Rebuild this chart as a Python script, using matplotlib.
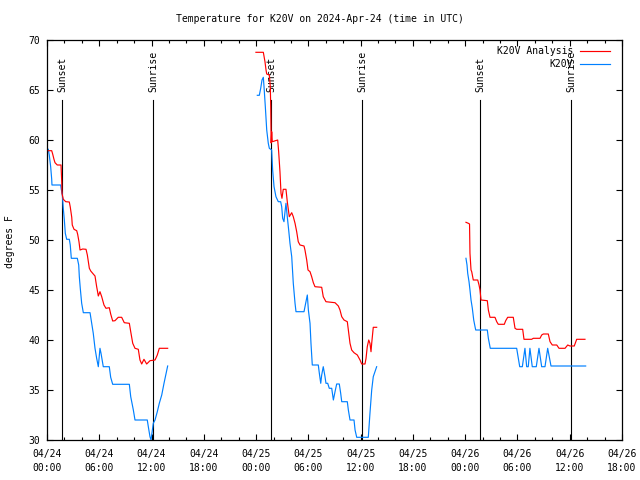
import matplotlib
matplotlib.use("Agg")
import matplotlib.pyplot as plt
from matplotlib.ticker import MultipleLocator, FixedLocator

# ---- data: hours since 2024-04-24 00:00 UTC, temperature in F ----
anl_h1 = [0.15, 0.54, 0.65, 0.80, 0.92, 1.18, 1.61, 1.69, 1.72, 1.87, 2.15, 2.56, 2.67, 2.84, 2.90,
          3.10, 3.41, 3.52, 3.67, 3.79, 4.10, 4.48, 4.63, 4.86, 5.02, 5.31, 5.51, 5.70, 5.77, 5.89,
          6.08, 6.28, 6.54, 6.77, 7.15, 7.31, 7.54, 7.80, 8.18, 8.57, 8.87, 9.45, 9.61, 9.84, 10.10,
          10.48, 10.67, 10.87, 11.13, 11.44, 11.82, 12.40, 12.66, 12.89, 13.85]
anl_t1 = [58.93, 58.93, 58.6, 58.07, 57.73, 57.5, 57.5, 55.8, 54.67, 54.07, 53.83, 53.8, 53.3, 52.27, 51.5,
          51.07, 50.93, 50.57, 49.83, 49.0, 49.1, 49.07, 48.5, 47.17, 46.9, 46.6, 46.4, 45.33, 45.0, 44.4,
          44.83, 44.33, 43.5, 43.17, 43.23, 42.6, 41.9, 41.93, 42.27, 42.27, 41.73, 41.67, 40.83, 39.67, 39.17,
          39.07, 38.0, 37.6, 38.07, 37.6, 37.93, 38.0, 38.5, 39.17, 39.17]

anl_h2 = [23.98, 24.83, 25.02, 25.14, 25.22, 25.52, 25.63, 25.68, 25.73, 25.79, 25.86, 26.48, 26.59, 26.74,
          26.86, 26.97, 27.12, 27.43, 27.58, 27.81, 28.09, 28.27, 28.47, 28.66, 28.84, 29.04, 29.50, 29.61,
          29.81, 29.96, 30.19, 30.38, 30.57, 30.76, 31.53, 31.71, 32.02, 33.06, 33.44, 33.63, 33.83, 34.09,
          34.47, 34.59, 34.78, 34.97, 35.24, 35.62, 35.93, 36.12, 36.50, 36.62, 36.76, 36.93, 37.07, 37.19,
          37.27, 37.45, 37.84]
anl_t2 = [68.77, 68.77, 67.83, 67.0, 66.6, 66.5, 65.33, 63.33, 59.7, 60.83, 59.83, 60.0, 58.83, 56.83,
          54.67, 54.17, 55.07, 55.07, 53.83, 52.33, 52.73, 52.33, 51.67, 50.83, 49.83, 49.5, 49.4, 49.0,
          48.0, 47.0, 46.83, 46.33, 45.73, 45.33, 45.27, 44.33, 43.83, 43.73, 43.4, 43.0, 42.33, 42.0,
          41.83, 41.0, 39.67, 39.0, 38.73, 38.5, 38.0, 37.6, 37.6, 38.17, 39.33, 40.0, 39.67, 38.83,
          39.67, 41.27, 41.27]

anl_h3 = [48.09, 48.36, 48.50, 48.55, 48.67, 48.75, 48.93, 49.44, 49.59, 49.70, 49.82, 50.54, 50.66, 50.85,
          51.42, 51.62, 51.80, 52.49, 52.65, 52.88, 53.52, 53.72, 53.91, 54.60, 54.75, 55.63, 55.82, 56.59,
          56.78, 56.97, 57.54, 57.74, 58.00, 58.51, 58.77, 59.46, 59.77, 60.03, 60.52, 60.80, 61.75]
anl_t3 = [51.77, 51.67, 51.6, 48.67, 47.0, 46.83, 46.0, 46.0, 45.5, 45.0, 44.0, 43.93, 43.0, 42.27,
          42.27, 41.83, 41.57, 41.57, 41.93, 42.27, 42.27, 41.17, 41.07, 41.07, 40.07, 40.07, 40.17, 40.17,
          40.5, 40.6, 40.6, 39.83, 39.5, 39.5, 39.17, 39.17, 39.5, 39.4, 39.4, 40.07, 40.07]

obs_h1 = [0.15, 0.26, 0.42, 0.54, 0.57, 1.57, 1.64, 1.76, 1.87, 1.99, 2.10, 2.26, 2.56, 2.67, 2.79, 3.48,
          3.64, 3.71, 3.82, 3.98, 4.17, 4.94, 5.13, 5.31, 5.51, 5.70, 5.89, 6.08, 6.20, 6.46, 7.15, 7.31,
          7.54, 9.45, 9.61, 9.91, 10.10, 11.51, 11.63, 11.82, 11.94, 12.20, 12.40, 12.66, 12.89, 13.17,
          13.43, 13.85]
obs_t1 = [59.07, 58.5, 57.33, 56.07, 55.5, 55.5, 55.07, 54.5, 53.17, 52.0, 50.67, 50.07, 50.07, 49.5, 48.17, 48.17,
          47.5, 46.33, 45.17, 43.67, 42.73, 42.73, 41.67, 40.67, 39.17, 38.17, 37.33, 39.17, 38.67, 37.33, 37.33, 36.27,
          35.57, 35.57, 34.33, 33.0, 32.0, 32.0, 31.33, 30.33, 30.0, 31.67, 32.0, 32.83, 33.67, 34.5,
          35.67, 37.4]

obs_h2 = [24.14, 24.37, 24.53, 24.68, 24.83, 24.91, 25.06, 25.22, 25.40, 25.52, 25.79, 25.90, 26.06, 26.28,
          26.55, 26.82, 26.94, 27.05, 27.20, 27.32, 27.43, 27.58, 27.74, 27.89, 28.09, 28.27, 28.47, 28.58,
          29.50, 29.69, 29.88, 30.00, 30.19, 30.30, 30.45, 31.14, 31.26, 31.42, 31.53, 31.71, 31.91, 32.02,
          32.22, 32.40, 32.68, 32.87, 33.06, 33.25, 33.55, 33.71, 33.83, 34.47, 34.59, 34.78, 35.24, 35.36,
          35.55, 36.88, 37.07, 37.27, 37.45, 37.84]
obs_t2 = [64.47, 64.47, 65.17, 66.0, 66.27, 65.33, 63.33, 61.0, 59.67, 59.17, 59.0, 57.0, 55.33, 54.33,
          53.83, 53.83, 53.33, 52.17, 51.83, 52.83, 53.67, 52.33, 51.0, 49.67, 48.33, 45.67, 43.67, 42.83,
          42.83, 43.67, 44.5, 43.0, 41.67, 39.67, 37.5, 37.5, 36.67, 35.67, 36.5, 37.33, 36.33, 35.67,
          35.67, 35.17, 35.17, 34.0, 34.83, 35.6, 35.6, 34.67, 33.83, 33.83, 33.0, 32.0, 32.0, 31.0,
          30.27, 30.27, 32.67, 35.0, 36.33, 37.33]

obs_h3 = [48.09, 48.21, 48.29, 48.44, 48.55, 48.67, 48.82, 48.98, 49.13, 49.21, 50.54, 50.66, 50.88, 53.91,
          54.10, 54.26, 54.56, 54.86, 55.06, 55.24, 55.43, 55.70, 56.16, 56.47, 56.78, 57.16, 57.47, 57.85,
          61.83]
obs_t3 = [48.17, 47.5, 46.67, 45.83, 45.0, 44.0, 43.17, 42.0, 41.33, 41.0, 41.0, 40.17, 39.17, 39.17,
          38.17, 37.33, 37.33, 39.17, 37.33, 37.33, 39.17, 37.33, 37.33, 39.17, 37.33, 37.33, 39.17, 37.4,
          37.4]

sunset_h = [1.75, 25.73, 49.72]
sunrise_h = [12.22, 36.20, 60.19]

tick_hours = [0, 6, 12, 18, 24, 30, 36, 42, 48, 54, 60, 66]
tick_labels = ["04/24\n00:00", "04/24\n06:00", "04/24\n12:00", "04/24\n18:00",
               "04/25\n00:00", "04/25\n06:00", "04/25\n12:00", "04/25\n18:00",
               "04/26\n00:00", "04/26\n06:00", "04/26\n12:00", "04/26\n18:00"]

title = "Temperature for K20V on 2024-Apr-24 (time in UTC)"
name_anl = "K20V Analysis"
name_obs = "K20V"

RED = "#ff0000"
BLUE = "#0080ff"
LW = 0.85

plt.rcParams['font.family'] = ['DejaVu Sans Mono']
plt.rcParams['font.size'] = 7

fig = plt.figure(figsize=(6.4, 4.8), dpi=100)
ax = fig.add_axes([47/640, 40/480, 575/640, 400/480])

for h in sunset_h:
    ax.plot([h, h], [30, 64], color='black', lw=0.8, zorder=1)
    ax.text(h, 64.75, "Sunset", rotation=90, ha='center', va='bottom', zorder=1)
for h in sunrise_h:
    ax.plot([h, h], [30, 64], color='black', lw=0.8, zorder=1)
    ax.text(h, 64.75, "Sunrise", rotation=90, ha='center', va='bottom', zorder=1)

l1, = ax.plot(anl_h1, anl_t1, color=RED, lw=LW, zorder=3, label=name_anl)
ax.plot(anl_h2, anl_t2, color=RED, lw=LW, zorder=3)
ax.plot(anl_h3, anl_t3, color=RED, lw=LW, zorder=3)
l2, = ax.plot(obs_h1, obs_t1, color=BLUE, lw=LW, zorder=2, label=name_obs)
ax.plot(obs_h2, obs_t2, color=BLUE, lw=LW, zorder=2)
ax.plot(obs_h3, obs_t3, color=BLUE, lw=LW, zorder=2)

ax.set_xlim(0, 66)
ax.set_ylim(30, 70)
ax.xaxis.set_major_locator(FixedLocator(tick_hours))
ax.set_xticklabels(tick_labels, linespacing=1.45)
ax.xaxis.set_minor_locator(MultipleLocator(2))
ax.yaxis.set_major_locator(MultipleLocator(5))

ax.tick_params(which='both', direction='in', top=True, right=True, width=0.8, color='black')
ax.tick_params(which='major', length=4.5)
ax.tick_params(which='minor', length=2.2)
ax.tick_params(axis='x', which='major', pad=6.5)
ax.tick_params(axis='y', which='major', pad=5)
for s in ax.spines.values():
    s.set_linewidth(0.9)

ax.set_ylabel("degrees F")
ax.yaxis.set_label_coords(-0.056, 0.495)
fig.text(0.5, 1 - 19/480, title, ha='center', va='center')

leg = ax.legend(handles=[l1, l2], loc='upper right', markerfirst=False, frameon=False,
                bbox_to_anchor=(0.979, 0.985), borderaxespad=0, borderpad=0,
                handlelength=3.1, handletextpad=0.7, labelspacing=0.3)
leg.set_zorder(5)

fig.savefig("out.png", dpi=100)
